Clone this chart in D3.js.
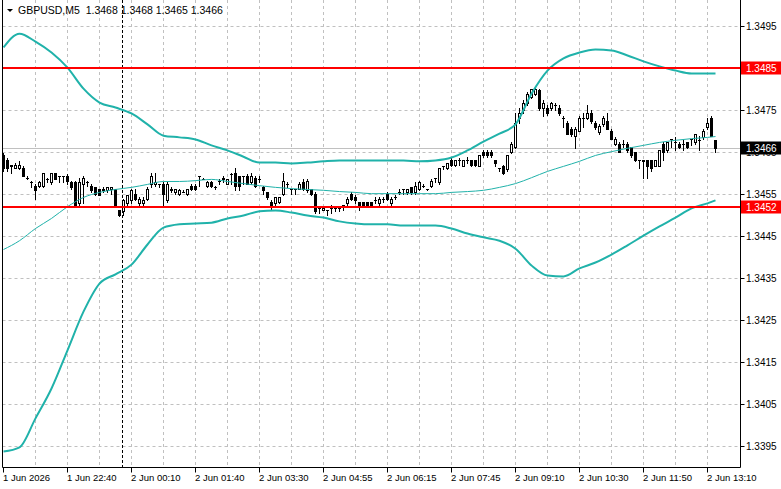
<!DOCTYPE html>
<html lang="en">
<head>
<meta charset="UTF-8">
<title>GBPUSD,M5</title>
<script src="https://cdn.jsdelivr.net/npm/d3@7"></script>
<style>
    body{margin:0;background:#fff;}
    svg{display:block;font-family:Tahoma,"Liberation Sans",Arial,sans-serif;font-size:9.5px;}
    text{white-space:pre;}
    .ylbl{font-size:10px;}
    .title{font-size:10.5px;}
</style>
</head>
<body>
<script>

// chart values
const titleText = "GBPUSD,M5  1.3468 1.3468 1.3465 1.3466"

// one row per M5 bar: open, high, low, close
const ohlc = [
    [1.34643,1.34648,1.34607,1.34612],[1.34631,1.34636,1.34607,1.34612],[1.34621,1.34621,1.34602,1.34619],[1.34614,1.34624,1.34612,1.34621],
    [1.34612,1.34629,1.34610,1.34621],[1.34612,1.34617,1.34593,1.34595],[1.34590,1.34595,1.34586,1.34590],[1.34579,1.34581,1.34569,1.34579],
    [1.34571,1.34576,1.34540,1.34560],[1.34571,1.34581,1.34569,1.34579],[1.34571,1.34602,1.34569,1.34600],[1.34586,1.34590,1.34579,1.34586],
    [1.34579,1.34602,1.34576,1.34600],[1.34600,1.34602,1.34586,1.34588],[1.34595,1.34595,1.34579,1.34595],[1.34593,1.34595,1.34579,1.34593],
    [1.34593,1.34598,1.34576,1.34581],[1.34579,1.34583,1.34564,1.34567],[1.34579,1.34581,1.34521,1.34524],[1.34529,1.34590,1.34521,1.34579],
    [1.34576,1.34595,1.34529,1.34590],[1.34579,1.34581,1.34571,1.34579],[1.34571,1.34574,1.34557,1.34560],[1.34567,1.34569,1.34550,1.34552],
    [1.34562,1.34564,1.34548,1.34550],[1.34560,1.34567,1.34557,1.34564],[1.34560,1.34569,1.34557,1.34567],[1.34562,1.34569,1.34552,1.34569],
    [1.34562,1.34564,1.34521,1.34524],[1.34512,1.34514,1.34498,1.34500],[1.34510,1.34540,1.34500,1.34538],[1.34529,1.34550,1.34526,1.34548],
    [1.34536,1.34564,1.34529,1.34560],[1.34552,1.34562,1.34538,1.34540],[1.34529,1.34543,1.34526,1.34540],[1.34529,1.34543,1.34526,1.34538],
    [1.34540,1.34567,1.34538,1.34564],[1.34574,1.34602,1.34569,1.34593],[1.34576,1.34602,1.34571,1.34579],[1.34574,1.34576,1.34569,1.34574],
    [1.34576,1.34579,1.34524,1.34552],[1.34536,1.34579,1.34533,1.34576],[1.34560,1.34567,1.34555,1.34564],[1.34555,1.34564,1.34552,1.34562],
    // 44
    [1.34552,1.34562,1.34550,1.34560],[1.34557,1.34560,1.34555,1.34557],[1.34552,1.34564,1.34550,1.34562],[1.34571,1.34574,1.34560,1.34562],
    [1.34571,1.34574,1.34560,1.34562],[1.34593,1.34595,1.34571,1.34593],[1.34588,1.34590,1.34586,1.34588],[1.34571,1.34581,1.34569,1.34579],
    [1.34579,1.34583,1.34569,1.34571],[1.34569,1.34571,1.34562,1.34569],[1.34583,1.34586,1.34574,1.34583],[1.34590,1.34593,1.34579,1.34588],
    [1.34576,1.34588,1.34574,1.34586],[1.34598,1.34600,1.34576,1.34598],[1.34602,1.34612,1.34560,1.34571],[1.34593,1.34595,1.34560,1.34571],
    [1.34593,1.34595,1.34576,1.34593],[1.34595,1.34598,1.34574,1.34576],[1.34579,1.34600,1.34576,1.34595],[1.34590,1.34593,1.34569,1.34571],
    [1.34588,1.34593,1.34579,1.34588],[1.34569,1.34571,1.34552,1.34560],[1.34555,1.34557,1.34540,1.34543],[1.34531,1.34536,1.34512,1.34524],
    [1.34529,1.34545,1.34526,1.34543],[1.34531,1.34545,1.34529,1.34543],[1.34552,1.34602,1.34550,1.34583],[1.34576,1.34579,1.34569,1.34576],
    [1.34562,1.34564,1.34552,1.34562],[1.34562,1.34564,1.34552,1.34562],[1.34564,1.34579,1.34562,1.34576],[1.34579,1.34586,1.34560,1.34562],
    [1.34560,1.34586,1.34557,1.34583],[1.34562,1.34564,1.34550,1.34552],[1.34552,1.34555,1.34507,1.34510],[1.34517,1.34519,1.34507,1.34517],
    [1.34514,1.34521,1.34512,1.34519],[1.34514,1.34514,1.34500,1.34514],[1.34519,1.34524,1.34507,1.34519],[1.34519,1.34519,1.34510,1.34519],
    [1.34519,1.34519,1.34510,1.34519],[1.34524,1.34524,1.34512,1.34524],[1.34529,1.34543,1.34526,1.34540],[1.34552,1.34555,1.34538,1.34540],
    // 88
    [1.34545,1.34548,1.34529,1.34536],[1.34531,1.34533,1.34512,1.34524],[1.34531,1.34533,1.34524,1.34526],[1.34531,1.34533,1.34524,1.34526],
    [1.34531,1.34533,1.34524,1.34526],[1.34538,1.34543,1.34529,1.34538],[1.34529,1.34543,1.34526,1.34540],[1.34540,1.34543,1.34531,1.34540],
    [1.34552,1.34555,1.34538,1.34540],[1.34529,1.34543,1.34526,1.34540],[1.34545,1.34550,1.34540,1.34545],[1.34557,1.34562,1.34552,1.34557],
    [1.34562,1.34564,1.34552,1.34562],[1.34555,1.34564,1.34552,1.34562],[1.34567,1.34569,1.34552,1.34555],[1.34555,1.34579,1.34552,1.34571],
    [1.34562,1.34581,1.34560,1.34579],[1.34571,1.34574,1.34569,1.34571],[1.34562,1.34564,1.34560,1.34562],[1.34571,1.34586,1.34569,1.34583],
    [1.34590,1.34590,1.34579,1.34590],[1.34579,1.34614,1.34576,1.34612],[1.34619,1.34619,1.34610,1.34619],[1.34612,1.34626,1.34610,1.34624],
    [1.34631,1.34638,1.34619,1.34621],[1.34621,1.34633,1.34619,1.34631],[1.34633,1.34636,1.34621,1.34633],[1.34619,1.34633,1.34617,1.34631],
    [1.34633,1.34640,1.34624,1.34633],[1.34631,1.34633,1.34619,1.34621],[1.34631,1.34633,1.34619,1.34621],[1.34619,1.34645,1.34617,1.34643],
    [1.34652,1.34655,1.34640,1.34643],[1.34652,1.34655,1.34640,1.34643],[1.34652,1.34655,1.34640,1.34643],[1.34631,1.34631,1.34619,1.34624],
    [1.34612,1.34614,1.34607,1.34612],[1.34619,1.34621,1.34598,1.34600],[1.34610,1.34645,1.34607,1.34643],[1.34650,1.34674,1.34648,1.34671],
    [1.34662,1.34743,1.34660,1.34721],[1.34731,1.34755,1.34721,1.34745],[1.34750,1.34774,1.34745,1.34769],[1.34767,1.34793,1.34764,1.34790],
    [1.34781,1.34802,1.34779,1.34800],
    // 133
    [1.34790,1.34807,1.34788,1.34802],[1.34798,1.34802,1.34750,1.34755],[1.34755,1.34774,1.34738,1.34767],[1.34755,1.34762,1.34740,1.34743],
    [1.34755,1.34771,1.34752,1.34767],[1.34764,1.34769,1.34750,1.34764],[1.34755,1.34762,1.34740,1.34743],[1.34731,1.34736,1.34710,1.34731],
    [1.34721,1.34724,1.34693,1.34695],[1.34707,1.34710,1.34690,1.34693],[1.34690,1.34710,1.34660,1.34707],[1.34702,1.34736,1.34700,1.34733],
    [1.34731,1.34743,1.34710,1.34731],[1.34731,1.34762,1.34729,1.34743],[1.34745,1.34752,1.34721,1.34726],[1.34721,1.34724,1.34707,1.34710],
    [1.34698,1.34717,1.34695,1.34714],[1.34719,1.34736,1.34714,1.34733],[1.34726,1.34743,1.34705,1.34707],[1.34702,1.34705,1.34681,1.34683],
    [1.34671,1.34686,1.34669,1.34683],[1.34671,1.34674,1.34650,1.34652],[1.34671,1.34679,1.34662,1.34671],[1.34671,1.34674,1.34652,1.34655],
    [1.34662,1.34664,1.34640,1.34643],[1.34650,1.34652,1.34629,1.34631],[1.34631,1.34631,1.34614,1.34631],[1.34631,1.34631,1.34590,1.34629],
    [1.34631,1.34633,1.34590,1.34619],[1.34631,1.34633,1.34607,1.34614],[1.34619,1.34633,1.34617,1.34631],[1.34619,1.34657,1.34617,1.34655],
    [1.34671,1.34676,1.34631,1.34650],[1.34655,1.34676,1.34652,1.34674],[1.34681,1.34683,1.34662,1.34681],[1.34674,1.34686,1.34655,1.34674],
    [1.34671,1.34674,1.34660,1.34662],[1.34671,1.34679,1.34655,1.34671],[1.34674,1.34676,1.34660,1.34662],[1.34681,1.34683,1.34667,1.34681],
    [1.34674,1.34695,1.34671,1.34693],[1.34679,1.34690,1.34655,1.34679],[1.34686,1.34705,1.34683,1.34702],[1.34710,1.34733,1.34707,1.34721],
    [1.34733,1.34736,1.34690,1.34690],[1.34680,1.34680,1.34650,1.34660]
]

// bollinger bands, read at these bar numbers
const bandBars = [0,4,8,12,16,20,24,28,32,36,40,44,48,52,56,60,64,68,72,76,80,84,88,92,96,100,
    104,108,112,116,120,124,128,132,136,140,144,148,152,156,160,164,168,172,176,178]
const upperBand = [1.34900,1.34933,1.34914,1.34888,1.34852,1.34802,1.34769,1.34757,1.34743,1.34717,
    1.34690,1.34686,1.34681,1.34667,1.34655,1.34640,1.34626,1.34626,1.34624,1.34626,
    1.34629,1.34631,1.34631,1.34631,1.34631,1.34631,1.34629,1.34631,1.34638,1.34655,
    1.34676,1.34695,1.34717,1.34790,1.34845,1.34874,1.34888,1.34895,1.34893,1.34881,
    1.34867,1.34855,1.34845,1.34838,1.34838,1.34838]
const middleBand = [1.34419,1.34440,1.34469,1.34493,1.34521,1.34543,1.34555,1.34562,1.34567,1.34574,
    1.34581,1.34581,1.34583,1.34586,1.34581,1.34576,1.34571,1.34567,1.34564,1.34562,
    1.34560,1.34557,1.34555,1.34552,1.34552,1.34552,1.34552,1.34552,1.34555,1.34557,
    1.34560,1.34567,1.34576,1.34590,1.34605,1.34617,1.34629,1.34643,1.34652,1.34660,
    1.34667,1.34674,1.34679,1.34683,1.34686,1.34688]
const lowerBand = [1.33938,1.33948,1.34017,1.34088,1.34179,1.34271,1.34338,1.34360,1.34383,1.34431,
    1.34471,1.34479,1.34481,1.34483,1.34493,1.34500,1.34510,1.34512,1.34507,1.34500,
    1.34495,1.34486,1.34481,1.34479,1.34479,1.34476,1.34476,1.34476,1.34469,1.34457,
    1.34448,1.34440,1.34421,1.34381,1.34357,1.34355,1.34374,1.34388,1.34407,1.34429,
    1.34452,1.34474,1.34495,1.34517,1.34529,1.34536]

const priceTicks = [1.3395,1.3405,1.3415,1.3425,1.3435,1.3445,1.3455,1.3465,1.3475,1.3485,1.3495]
const timeLabels = ["1 Jun 2026","1 Jun 22:40","2 Jun 00:10","2 Jun 01:40","2 Jun 03:30","2 Jun 04:55",
    "2 Jun 06:15","2 Jun 07:45","2 Jun 09:10","2 Jun 10:30","2 Jun 11:50","2 Jun 13:10"]
const timeLabelBars = [0,16,32,48,64,80,96,112,128,144,160,176]
const gridBars = [8,16,24,32,40,48,56,64,72,80,88,96,104,112,120,128,136,144,152,160,168,176]
const levelLines = [1.3485, 1.3452]
const lastPrice = 1.3466
const separatorBar = 30

// sizes
const svgSize = {width: 781, height: 489}
const plot = {left: 2.5, right: 740.5, top: 0, bottom: 467.5}
const bandColor = "#20b2aa"

const svg = d3.select("body").append("svg")
    .attr("width", svgSize.width)
    .attr("height", svgSize.height)
    .attr("viewBox", [0, 0, svgSize.width, svgSize.height])

const x = d3.scaleLinear().domain([0, 1]).range([3.5, 7.5])
const y = d3.scaleLinear().domain([1.3395, 1.3495]).range([446.5, 26.5])
const crisp = v => Math.round(v - 0.5) + 0.5

svg.append("defs").append("clipPath").attr("id", "plotClip")
    .append("rect")
    .attr("x", plot.left + 0.5).attr("y", 0)
    .attr("width", plot.right - plot.left - 1).attr("height", plot.bottom)

const canvas = svg.append("g").attr("clip-path", "url(#plotClip)")

// grid
canvas.selectAll(".hgrid").data(priceTicks).enter().append("line")
    .attr("x1", plot.left).attr("x2", plot.right)
    .attr("y1", d => crisp(y(d))).attr("y2", d => crisp(y(d)))
    .attr("stroke", "#c0c0c0").attr("stroke-dasharray", "3,3")

canvas.selectAll(".vgrid").data(gridBars).enter().append("line")
    .attr("x1", d => x(d)).attr("x2", d => x(d))
    .attr("y1", 0).attr("y2", plot.bottom)
    .attr("stroke", "#c0c0c0").attr("stroke-dasharray", "3,3")

// day separator
canvas.append("line")
    .attr("x1", x(separatorBar) - 1).attr("x2", x(separatorBar) - 1)
    .attr("y1", 0).attr("y2", plot.bottom)
    .attr("stroke", "#000").attr("stroke-dasharray", "3,2")

// last price line
canvas.append("line")
    .attr("x1", plot.left).attr("x2", plot.right)
    .attr("y1", crisp(y(lastPrice))).attr("y2", crisp(y(lastPrice)))
    .attr("stroke", "#c0c0c0")

// candles
const bars = canvas.selectAll(".bar").data(ohlc).enter().append("g")

bars.append("line")
    .attr("x1", (d, i) => x(i)).attr("x2", (d, i) => x(i))
    .attr("y1", d => Math.round(y(d[1]))).attr("y2", d => Math.round(y(d[2])) + 1)
    .attr("stroke", "#000")

bars.each(function (d, i) {
    const top = Math.round(y(Math.max(d[0], d[3])))
    const bot = Math.round(y(Math.min(d[0], d[3])))
    const g = d3.select(this)
    if (bot - top < 1) {
        g.append("line")
            .attr("x1", x(i) - 1.5).attr("x2", x(i) + 1.5)
            .attr("y1", top + 0.5).attr("y2", top + 0.5)
            .attr("stroke", "#000")
    } else {
        g.append("rect")
            .attr("x", x(i) - 1).attr("width", 2)
            .attr("y", top + 0.5).attr("height", bot - top)
            .attr("fill", d[3] >= d[0] ? "#fff" : "#000")
            .attr("stroke", "#000")
    }
})

// bands
const bandLine = d3.line()
    .x((d, i) => x(bandBars[i]))
    .y(d => y(d))
    .curve(d3.curveMonotoneX)

canvas.append("path").attr("d", bandLine(middleBand))
    .attr("fill", "none").attr("stroke", bandColor).attr("stroke-width", 1)
canvas.append("path").attr("d", bandLine(upperBand))
    .attr("fill", "none").attr("stroke", bandColor).attr("stroke-width", 2)
canvas.append("path").attr("d", bandLine(lowerBand))
    .attr("fill", "none").attr("stroke", bandColor).attr("stroke-width", 2)

// horizontal levels
canvas.selectAll(".level").data(levelLines).enter().append("line")
    .attr("x1", plot.left).attr("x2", plot.right)
    .attr("y1", d => Math.round(y(d))).attr("y2", d => Math.round(y(d)))
    .attr("stroke", "#ff0000").attr("stroke-width", 2)

// frame
svg.append("path")
    .attr("d", `M${plot.left},0V${plot.bottom}H${plot.right}V0`)
    .attr("fill", "none").attr("stroke", "#000")

// price axis
const yAxis = svg.append("g")
yAxis.selectAll(".tick").data(priceTicks).enter().append("line")
    .attr("x1", plot.right).attr("x2", plot.right + 4)
    .attr("y1", d => crisp(y(d))).attr("y2", d => crisp(y(d)))
    .attr("stroke", "#000")
yAxis.selectAll(".lbl").data(priceTicks).enter().append("text")
    .attr("class", "ylbl")
    .attr("x", 746).attr("y", d => y(d) + 3.5)
    .attr("fill", "#000")
    .text(d => d.toFixed(4))

// time axis
const xAxis = svg.append("g")
xAxis.selectAll(".tick").data(timeLabelBars).enter().append("line")
    .attr("x1", d => x(d)).attr("x2", d => x(d))
    .attr("y1", plot.bottom).attr("y2", plot.bottom + 5)
    .attr("stroke", "#000")
xAxis.selectAll(".lbl").data(timeLabels).enter().append("text")
    .attr("x", (d, i) => x(timeLabelBars[i]) - 0.5).attr("y", 481)
    .attr("fill", "#000")
    .text(d => d)

// price boxes
function priceBox(price, color) {
    const py = y(price)
    svg.append("rect")
        .attr("x", plot.right + 0.5).attr("y", Math.round(py) - 6.5)
        .attr("width", 40).attr("height", 13)
        .attr("fill", color)
    svg.append("text")
        .attr("class", "ylbl")
        .attr("x", 746).attr("y", py + 3.5)
        .attr("fill", "#fff")
        .text(price.toFixed(4))
}
levelLines.forEach(d => priceBox(d, "#ff0000"))
priceBox(lastPrice, "#000")

// title
svg.append("path").attr("d", "M7,9H13L10,12Z").attr("fill", "#000")
svg.append("text").attr("class", "title").attr("x", 18).attr("y", 14).attr("fill", "#000").text(titleText)

</script>
</body>
</html>
